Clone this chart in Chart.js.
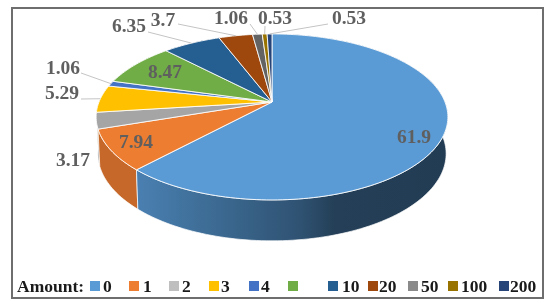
<!DOCTYPE html>
<html lang="en">
<head>
  <meta charset="UTF-8">
  <title>Amount share</title>
  <script src="https://cdn.jsdelivr.net/npm/chart.js"></script>
  <style>
    html, body { margin: 0; padding: 0; background: #fff; }
    #wrap { position: relative; width: 550px; height: 307px; overflow: hidden; }
    #frame {
      position: absolute; left: 11px; top: 7px; width: 529px; height: 288px;
      border: 2px solid #6e6e6e; box-sizing: content-box;
    }
    canvas { position: absolute; left: 0; top: 0; }
    .leg {
      position: absolute; top: 276px; font: bold 17.5px/20px "Liberation Serif", serif;
      color: #1a1a1a; white-space: nowrap;
    }
    .swatch { position: absolute; top: 281px; width: 10px; height: 10px; }
  </style>
</head>
<body>
  <div id="wrap">
    <div id="frame"></div>
    <canvas id="pie" width="550" height="307"></canvas>
    <div id="legend"></div>
  </div>

  <script>
    const categories = ['0', '1', '2', '3', '4', '', '10', '20', '50', '100', '200'];
    const shares = [61.9, 7.94, 3.17, 5.29, 1.06, 8.47, 6.35, 3.7, 1.06, 0.53, 0.53];
    const sliceColors = ['#5b9bd5', '#ed7d31', '#a5a5a5', '#ffc000', '#4472c4', '#70ad47',
                         '#255e91', '#9e480e', '#636363', '#997300', '#264478'];
    const legendColors = ['#5b9bd5', '#ed7d31', '#bfbfbf', '#ffc000', '#4472c4', '#70ad47',
                          '#255e91', '#9e480e', '#8a8a8a', '#997300', '#264478'];

    // layout only
    const labelSpots = [[414, 138], [136, 143], [73, 161], [62, 94], [63, 69], [165, 73],
                        [129, 27], [163, 21], [231, 19], [275, 19], [349, 19]];
    const leaderStarts = [null, null, null, [81, 99], [81, 73], null,
                          [148, 32], [178, 24], [250, 24], [265, 26], [328, 24]];
    const swatchLefts = [90, 129, 169, 209, 249, 288, 328, 368, 408, 448, 499];
    const textLefts = [103, 143, 182, 221, 261, 0, 342, 379, 421, 461, 510];

    // tilted disc: apex of the pie, radius, squash and perspective
    const apexX = 272, apexY = 102, radius = 173, squash = 80.3, persp = -0.18;
    const wallGrow = 1.05, wallDrop = 36, wallNarrow = 0.99;

    function rim(a) {
      const d = 1 + persp * Math.sin(a);
      return [radius * Math.cos(a) / d, squash * Math.sin(a) / d];
    }
    function toTop(p) { return [apexX + p[0], apexY + p[1]]; }
    function toBottom(p) { return [apexX + p[0] * wallNarrow, apexY + p[1] * wallGrow + wallDrop]; }

    function shade(hex, f) {
      const n = parseInt(hex.slice(1), 16);
      const c = [n >> 16, (n >> 8) & 255, n & 255].map(v => Math.round(v * f));
      return `rgb(${c[0]},${c[1]},${c[2]})`;
    }

    const pie3d = {
      id: 'pie3d',
      beforeDatasetDraw(chart, args) {
        const ctx = chart.ctx;
        const arcs = args.meta.data;

        // side walls, back slices first
        for (let i = arcs.length - 1; i >= 0; i--) {
          const s = arcs[i].startAngle, e = arcs[i].endAngle;
          const steps = Math.max(2, Math.ceil((e - s) * 40));
          ctx.beginPath();
          for (let j = 0; j <= steps; j++) {
            const p = toTop(rim(s + (e - s) * j / steps));
            j ? ctx.lineTo(p[0], p[1]) : ctx.moveTo(p[0], p[1]);
          }
          for (let j = steps; j >= 0; j--) {
            const p = toBottom(rim(s + (e - s) * j / steps));
            ctx.lineTo(p[0], p[1]);
          }
          ctx.closePath();
          if (i === 0) {
            const g = ctx.createLinearGradient(136, 0, 447, 0);
            g.addColorStop(0, '#4a80b2');
            g.addColorStop(0.2, '#3f6f99');
            g.addColorStop(0.53, '#2f5272');
            g.addColorStop(0.64, '#243f57');
            g.addColorStop(1, '#223c54');
            ctx.fillStyle = g;
          } else {
            ctx.fillStyle = shade(arcs[i].options.backgroundColor, 0.83);
          }
          ctx.fill();
          ctx.strokeStyle = 'rgba(255,255,255,0.7)';
          ctx.lineWidth = 1;
          ctx.stroke();
        }

        // top face
        arcs.forEach(arc => {
          const s = arc.startAngle, e = arc.endAngle;
          const steps = Math.max(2, Math.ceil((e - s) * 40));
          ctx.beginPath();
          ctx.moveTo(apexX, apexY);
          for (let j = 0; j <= steps; j++) {
            const p = toTop(rim(s + (e - s) * j / steps));
            ctx.lineTo(p[0], p[1]);
          }
          ctx.closePath();
          ctx.fillStyle = arc.options.backgroundColor;
          ctx.fill();
          ctx.strokeStyle = 'rgba(255,255,255,0.85)';
          ctx.lineWidth = 1;
          ctx.stroke();
        });

        // leader lines and value labels
        ctx.font = 'bold 19.5px "Liberation Serif", serif';
        ctx.textAlign = 'center';
        ctx.textBaseline = 'middle';
        arcs.forEach((arc, i) => {
          const from = leaderStarts[i];
          if (from) {
            const end = toTop(rim((arc.startAngle + arc.endAngle) / 2));
            ctx.beginPath();
            ctx.moveTo(from[0], from[1]);
            ctx.lineTo(end[0], end[1]);
            ctx.strokeStyle = '#c4c4c4';
            ctx.lineWidth = 1;
            ctx.stroke();
          }
          ctx.fillStyle = '#5f5f5f';
          ctx.fillText(String(shares[i]), labelSpots[i][0], labelSpots[i][1]);
        });
        return false;
      }
    };

    new Chart(document.getElementById('pie').getContext('2d'), {
      type: 'pie',
      data: {
        labels: categories,
        datasets: [{ data: shares, backgroundColor: sliceColors, borderWidth: 0 }]
      },
      options: {
        responsive: false,
        animation: false,
        plugins: { legend: { display: false }, tooltip: { enabled: false } }
      },
      plugins: [pie3d]
    });

    // legend row
    const legend = document.getElementById('legend');
    const title = document.createElement('div');
    title.className = 'leg';
    title.style.left = '17px';
    title.textContent = 'Amount:';
    legend.appendChild(title);
    categories.forEach((name, i) => {
      const box = document.createElement('div');
      box.className = 'swatch';
      box.style.left = swatchLefts[i] + 'px';
      box.style.background = legendColors[i];
      legend.appendChild(box);
      if (name) {
        const text = document.createElement('div');
        text.className = 'leg';
        text.style.left = textLefts[i] + 'px';
        text.textContent = name;
        legend.appendChild(text);
      }
    });
  </script>
</body>
</html>
